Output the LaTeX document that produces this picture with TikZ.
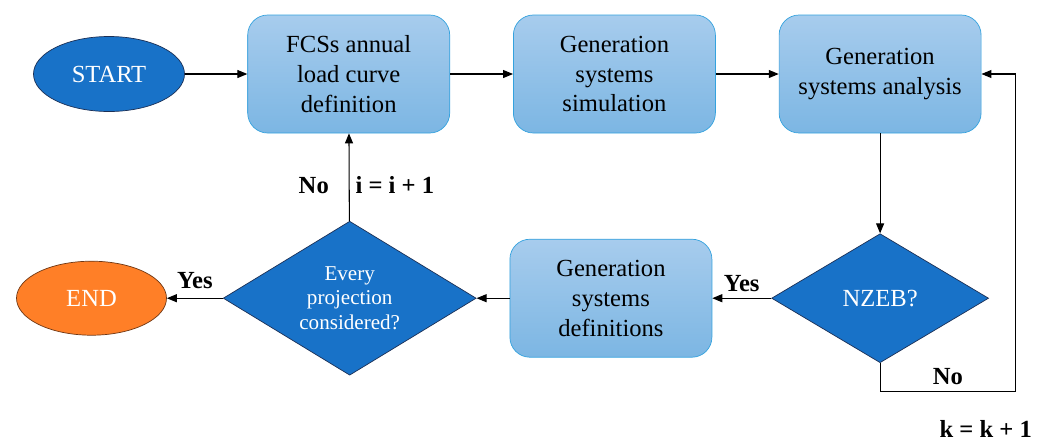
\documentclass[tikz,border=0pt]{standalone}
\usepackage{fontspec}
\setmainfont{Liberation Serif}
\usepackage{tikz}
\usetikzlibrary{arrows.meta,positioning,shapes.geometric}
\definecolor{boxtop}{RGB}{167,204,237}
\definecolor{boxbottom}{RGB}{124,182,227}
\definecolor{boxedge}{RGB}{52,162,222}
\definecolor{decblue}{RGB}{24,114,200}
\definecolor{decedge}{RGB}{28,48,86}
\definecolor{endorange}{RGB}{255,127,39}
\definecolor{endedge}{RGB}{110,55,20}

\begin{document}
\begin{tikzpicture}[
  node distance=1.26cm,
  process/.style={draw=boxedge, rounded corners=0.4cm, align=center, minimum width=4.04cm, minimum height=2.36cm, top color=boxtop, bottom color=boxbottom, font=\rmfamily\fontsize{14}{17}\selectfont, inner sep=0pt},
  decision/.style={diamond, draw=decedge, fill=decblue, text=white, align=center, inner sep=0pt},
  terminal/.style={ellipse, minimum width=3.02cm, minimum height=1.5cm, text=white, font=\rmfamily\fontsize{14}{17}\selectfont, inner sep=0pt},
  lbl/.style={font=\rmfamily\fontsize{14}{17}\selectfont\bfseries},
  arr/.style={-{Triangle[length=2mm,width=1.6mm]}, line width=0.6pt}
]
\useasboundingbox (0,0) rectangle (21.04,-8.82);

\node[terminal, draw=decedge, fill=decblue] (start) at (2.18,-1.48) {START};
\node[process, right=1.25cm of start] (p1) {FCSs annual\\load curve\\definition};
\node[process, right=of p1] (p2) {Generation\\systems\\simulation};
\node[process, right=of p2] (p3) {Generation\\systems analysis};

\node[decision, minimum width=4.34cm, minimum height=2.58cm, aspect=1.68, font=\rmfamily\fontsize{14}{17}\selectfont, below=2.0cm of p3] (q1) {NZEB?};
\node[process, left=1.18cm of q1] (p4) {Generation\\systems\\definitions};
\node[decision, minimum width=5.06cm, minimum height=3.08cm, aspect=1.64, font=\rmfamily\fontsize{12}{14}\selectfont, left=0.66cm of p4] (q2) {Every\\projection\\considered?};
\node[terminal, draw=endedge, fill=endorange, minimum width=3.0cm, minimum height=1.48cm, left=1.12cm of q2] (fin) {END};

\coordinate[right=0.68cm of p3.east] (kloop);

\draw[arr] (start) -- (p1);
\draw[arr] (p1) -- (p2);
\draw[arr] (p2) -- (p3);
\draw[arr] (p3) -- (q1);
\draw[arr] (q1) -- node[lbl, above]{Yes} (p4);
\draw[arr] (p4) -- (q2);
\draw[arr] (q2) -- node[lbl, above, yshift=2pt]{Yes} (fin);
\draw[arr] (q2) -- node[lbl, left=0.28cm, pos=0.41]{No} node[lbl, right, pos=0.41]{i = i + 1} (p1);
\draw[arr] (q1.south) -- ++(0,-0.56) -| node[lbl, above, pos=0.25]{No} node[lbl, pos=0.39, yshift=-0.76cm]{k = k + 1} (kloop) -- (p3.east);
\end{tikzpicture}
\end{document}
